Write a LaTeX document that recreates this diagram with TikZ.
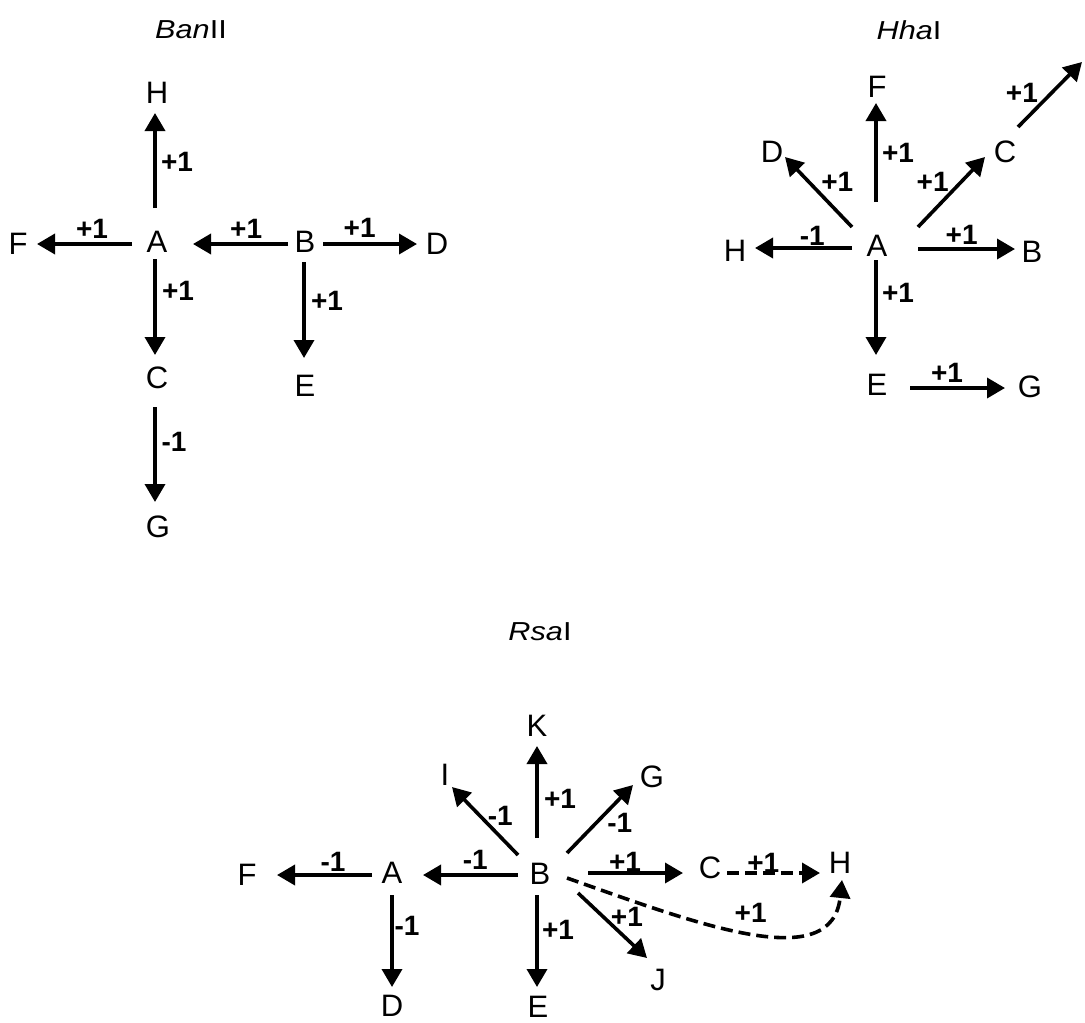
\documentclass[tikz,border=0pt]{standalone}
\usepackage{fontspec}
\setmainfont{Liberation Sans}
\newfontfamily\titlefont{Liberation Sans}[FakeStretch=1.18]
\usetikzlibrary{arrows.meta}
\begin{document}
\begin{tikzpicture}[x=1pt,y=-1pt,
  lt/.style={font=\fontsize{31}{34}\selectfont, inner sep=0pt},
  ttl/.style={font=\titlefont\fontsize{26}{29}\selectfont, inner sep=0pt},
  lbl/.style={font=\fontsize{28}{31}\selectfont\bfseries, inner sep=0pt},
  arr/.style={line width=3.6pt, -{Triangle[length=18pt,width=20pt]}},
  dsh/.style={arr, dash pattern=on 12pt off 6pt}]
\useasboundingbox[fill=white] (0,0) rectangle (1085,1023);

% ---------------- BanII ----------------
\node[ttl] (bT) at (191,30) {\textit{Ban}II};
\node[lt] (bH) at (157,93) {H};
\node[lt] (bA) at (157,242) {A};
\node[lt] (bF) at (18,244) {F};
\node[lt] (bB) at (305,242) {B};
\node[lt] (bD) at (437,244) {D};
\node[lt] (bC) at (157,378) {C};
\node[lt] (bE) at (305,386) {E};
\node[lt] (bG) at (158,527) {G};

\draw[arr] ([shift={(-2,-34)}]bA.center) -- node[lbl,pos=0.49,shift={(22,0)}] {+1} ([shift={(-2,20)}]bH.center);
\draw[arr] ([shift={(-25,2)}]bA.center) -- node[lbl,pos=0.42,shift={(0,-15)}] {+1} ([shift={(19,0)}]bF.center);
\draw[arr] ([shift={(-17,2)}]bB.center) -- node[lbl,pos=0.44,shift={(0,-15)}] {+1} ([shift={(36,2)}]bA.center);
\draw[arr] ([shift={(18,2)}]bB.center) -- node[lbl,pos=0.39,shift={(0,-16)}] {+1} ([shift={(-20,0)}]bD.center);
\draw[arr] ([shift={(-2,17)}]bA.center) -- node[lbl,pos=0.33,shift={(23,0)}] {+1} ([shift={(-2,-23)}]bC.center);
\draw[arr] ([shift={(-1,20)}]bB.center) -- node[lbl,pos=0.41,shift={(23,0)}] {+1} ([shift={(-1,-28)}]bE.center);
\draw[arr] ([shift={(-2,29)}]bC.center) -- node[lbl,pos=0.37,shift={(19,0)}] {-1} ([shift={(-3,-25)}]bG.center);

% ---------------- HhaI ----------------
\node[ttl] (hT) at (909,30) {\textit{Hha}I};
\node[lt] (hF) at (877,87) {F};
\node[lt] (hD) at (772,152) {D};
\node[lt] (hC) at (1005,152) {C};
\node[lt] (hA) at (877,246) {A};
\node[lt] (hH) at (735,251) {H};
\node[lt] (hB) at (1032,252) {B};
\node[lt] (hE) at (877,385) {E};
\node[lt] (hG) at (1030,387) {G};
\coordinate (hX) at (1082,62);

\draw[arr] ([shift={(-1,-44)}]hA.center) -- node[lbl,pos=0.5,shift={(22,0)}] {+1} ([shift={(-1,16)}]hF.center);
\draw[arr] ([shift={(-25,-19)}]hA.center) -- node[lbl,pos=0.443,shift={(15,-14)}] {+1} ([shift={(13,5)}]hD.center);
\draw[arr] ([shift={(41,-19)}]hA.center) -- node[lbl,pos=0.443,shift={(-15,-14)}] {+1} ([shift={(-20,5)}]hC.center);
\draw[arr] ([shift={(13,-25)}]hC.center) -- node[lbl,pos=0.296,shift={(-15,-15)}] {+1} (hX);
\draw[arr] ([shift={(-25,2)}]hA.center) -- node[lbl,pos=0.41,shift={(0,-12)}] {-1} ([shift={(20,-3)}]hH.center);
\draw[arr] ([shift={(41,3)}]hA.center) -- node[lbl,pos=0.45,shift={(0,-14)}] {+1} ([shift={(-17,-3)}]hB.center);
\draw[arr] ([shift={(-1,14)}]hA.center) -- node[lbl,pos=0.35,shift={(22,0)}] {+1} ([shift={(-1,-30)}]hE.center);
\draw[arr] ([shift={(33,3)}]hE.center) -- node[lbl,pos=0.39,shift={(0,-15)}] {+1} ([shift={(-25,1)}]hG.center);

% ---------------- RsaI ----------------
\node[ttl] (rT) at (540,632) {\textit{Rsa}I};
\node[lt] (rK) at (537,726) {K};
\node[lt] (rI) at (445,775) {I};
\node[lt] (rG) at (652,777) {G};
\node[lt] (rF) at (247,875) {F};
\node[lt] (rA) at (392,873) {A};
\node[lt] (rB) at (540,874) {B};
\node[lt] (rC) at (710,868) {C};
\node[lt] (rH) at (840,863) {H};
\node[lt] (rD) at (392,1006) {D};
\node[lt] (rE) at (538,1007) {E};
\node[lt] (rJ) at (658,980) {J};

\draw[arr] ([shift={(-3,-36)}]rB.center) -- node[lbl,pos=0.43,shift={(23,0)}] {+1} ([shift={(0,20)}]rK.center);
\draw[arr] ([shift={(-22,-19)}]rB.center) -- node[lbl,pos=0.435,shift={(11,-10)}] {-1} ([shift={(7,12)}]rI.center);
\draw[arr] ([shift={(27,-21)}]rB.center) -- node[lbl,pos=0.617,shift={(12,12)}] {-1} ([shift={(-19,8)}]rG.center);
\draw[arr] ([shift={(-20,2)}]rA.center) -- node[lbl,pos=0.41,shift={(0,-13)}] {-1} ([shift={(30,0)}]rF.center);
\draw[arr] ([shift={(-22,1)}]rB.center) -- node[lbl,pos=0.45,shift={(0,-15)}] {-1} ([shift={(31,2)}]rA.center);
\draw[arr] ([shift={(48,-1)}]rB.center) -- node[lbl,pos=0.39,shift={(0,-11)}] {+1} ([shift={(-27,5)}]rC.center);
\draw[dsh] ([shift={(17,5)}]rC.center) -- node[lbl,pos=0.39,shift={(0,-10)}] {+1} ([shift={(-20,10)}]rH.center);
\draw[arr] ([shift={(0,22)}]rA.center) -- node[lbl,pos=0.34,shift={(15,0)}] {-1} ([shift={(0,-19)}]rD.center);
\draw[arr] ([shift={(-3,21)}]rB.center) -- node[lbl,pos=0.38,shift={(21,0)}] {+1} ([shift={(-1,-20)}]rE.center);
\draw[arr] ([shift={(38,19)}]rB.center) -- node[lbl,pos=0.55,shift={(11,-12)}] {+1} ([shift={(-11,-22)}]rJ.center);
\draw[dsh] ([shift={(27,4)}]rB.center) .. controls (700,925) and (832,975) .. node[lbl,pos=0.5,shift={(0,-19)}] {+1} ([shift={(2,17)}]rH.center);
\end{tikzpicture}
\end{document}
